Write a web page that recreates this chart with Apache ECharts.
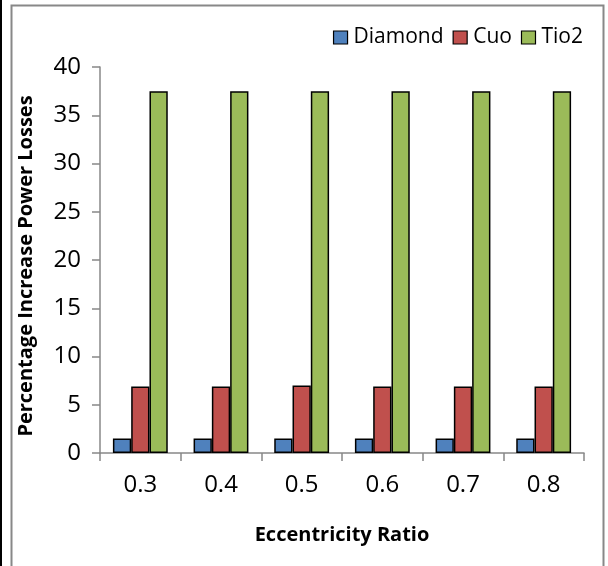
<!DOCTYPE html>
<html><head><meta charset="utf-8">
<script src="https://cdn.jsdelivr.net/npm/echarts@6/dist/echarts.min.js"></script>
<style>html,body{margin:0;padding:0;background:#fff}#c{width:608px;height:566px}</style>
</head><body><div id="c"></div>
<script>
const categories = ['0.3','0.4','0.5','0.6','0.7','0.8'];
const diamond = [1.5,1.5,1.5,1.5,1.5,1.5];
const cuo = [6.9,6.9,7.0,6.9,6.9,6.9];
const tio2 = [37.5,37.5,37.5,37.5,37.5,37.5];
const FONT = '"Open Sans", "Liberation Sans", sans-serif';
const chart = echarts.init(document.getElementById('c'));
const bar = (name, data, color) => ({
  name, type:'bar', data, barGap:'0%', barCategoryGap:'32%',
  itemStyle:{color, borderColor:'#000', borderWidth:1.5}
});
chart.setOption({
  animation:false,
  graphic:[
    {type:'rect', shape:{x:0,y:0,width:2,height:566}, style:{fill:'#000'}},
    {type:'rect', shape:{x:11.5,y:5.5,width:592,height:580}, style:{fill:'none', stroke:'#888', lineWidth:2}}
  ],
  legend:{top:22, right:20, itemWidth:14, itemHeight:13, itemGap:9,
    textStyle:{fontFamily:FONT, fontSize:21, color:'#000', padding:[0,0,0,1]},
    icon:'rect', itemStyle:{borderColor:'#000', borderWidth:1.2}},
  grid:{left:100, right:24, top:67, bottom:113},
  xAxis:{type:'category', data:categories,
    axisLine:{lineStyle:{color:'#888', width:1.5}},
    axisTick:{show:true, length:8, lineStyle:{color:'#888', width:1.5}},
    axisLabel:{fontFamily:FONT, fontSize:24, color:'#000', margin:20},
    name:'Eccentricity Ratio', nameLocation:'middle', nameGap:72,
    nameTextStyle:{fontFamily:FONT, fontSize:20, fontWeight:'bold', color:'#000'}},
  yAxis:{type:'value', min:0, max:40, interval:5,
    axisLine:{show:true, lineStyle:{color:'#888', width:1.5}},
    axisTick:{show:true, length:8, lineStyle:{color:'#888', width:1.5}},
    splitLine:{show:false},
    axisLabel:{fontFamily:FONT, fontSize:24, color:'#000', margin:19},
    name:'Percentage Increase Power Losses', nameLocation:'middle', nameGap:64,
    nameTextStyle:{fontFamily:FONT, fontSize:20, fontWeight:'bold', color:'#000', padding:[0,0,0,-12]}},
  series:[bar('Diamond',diamond,'#4F81BD'), bar('Cuo',cuo,'#C0504D'), bar('Tio2',tio2,'#9BBB59')]
});
</script></body></html>
